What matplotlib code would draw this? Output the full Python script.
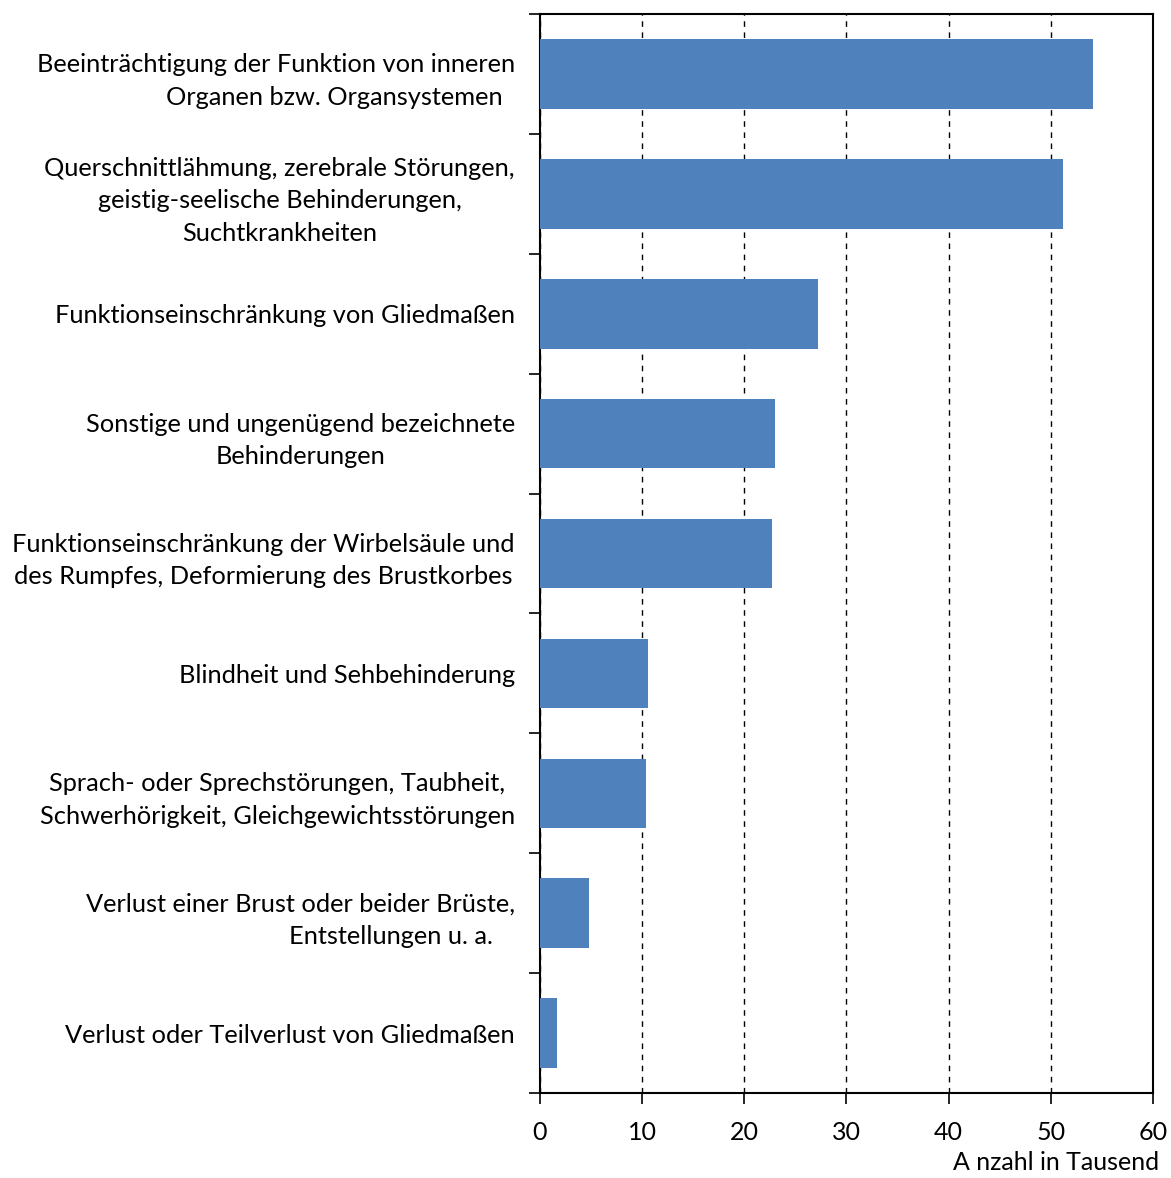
import numpy as np
import matplotlib
matplotlib.use("Agg")
import matplotlib.pyplot as plt

plt.rcParams['font.family'] = ['Lato', 'DejaVu Sans']

# categories (top to bottom) and values in thousands
categories = [
    "Beeinträchtigung der Funktion von inneren\n" + " " * 18 + "Organen bzw. Organsystemen",
    "Querschnittlähmung, zerebrale Störungen,\ngeistig-seelische Behinderungen,\nSuchtkrankheiten",
    "Funktionseinschränkung von Gliedmaßen",
    "Sonstige und ungenügend bezeichnete\nBehinderungen",
    "Funktionseinschränkung der Wirbelsäule und\ndes Rumpfes, Deformierung des Brustkorbes",
    "Blindheit und Sehbehinderung",
    "Sprach- oder Sprechstörungen, Taubheit,\nSchwerhörigkeit, Gleichgewichtsstörungen",
    "Verlust einer Brust oder beider Brüste,\n" + " " * 28 + "Entstellungen u. a.",
    "Verlust oder Teilverlust von Gliedmaßen",
]
values = [54.1, 51.2, 27.2, 23.0, 22.7, 10.6, 10.4, 4.8, 1.7]
xticks = [0, 10, 20, 30, 40, 50, 60]

fig = plt.figure(figsize=(11.71, 11.78), dpi=100)
ax = fig.add_axes([0.461, 0.0722, 0.5236, 0.9158])

y = np.arange(len(categories))
ax.barh(y, values, height=0.58, color='#4F81BD', zorder=3)
ax.set_ylim(len(categories) - 0.5, -0.5)
ax.set_xlim(0, 60)

ax.set_xticks(xticks)
ax.set_xticklabels([str(t) for t in xticks], fontsize=18)
ax.tick_params(axis='x', length=8, width=1.2, pad=12, direction='out')

# labels at category centres, ticks at the boundaries
ax.set_yticks(y)
ax.set_yticklabels(categories, fontsize=18.3, multialignment='center', linespacing=1.5)
ax.tick_params(axis='y', which='major', length=0, pad=18)
ax.set_yticks(np.arange(-0.5, len(categories)), minor=True)
ax.tick_params(axis='y', which='minor', length=8, width=1.2)

ax.grid(axis='x', linestyle=(0, (4, 4)), color='black', linewidth=1, zorder=0)
for s in ax.spines.values():
    s.set_linewidth(1.5)

fig.text(0.99, 0.003, "A nzahl in Tausend", ha='right', va='bottom', fontsize=18)

fig.savefig("out.png", dpi=100)
